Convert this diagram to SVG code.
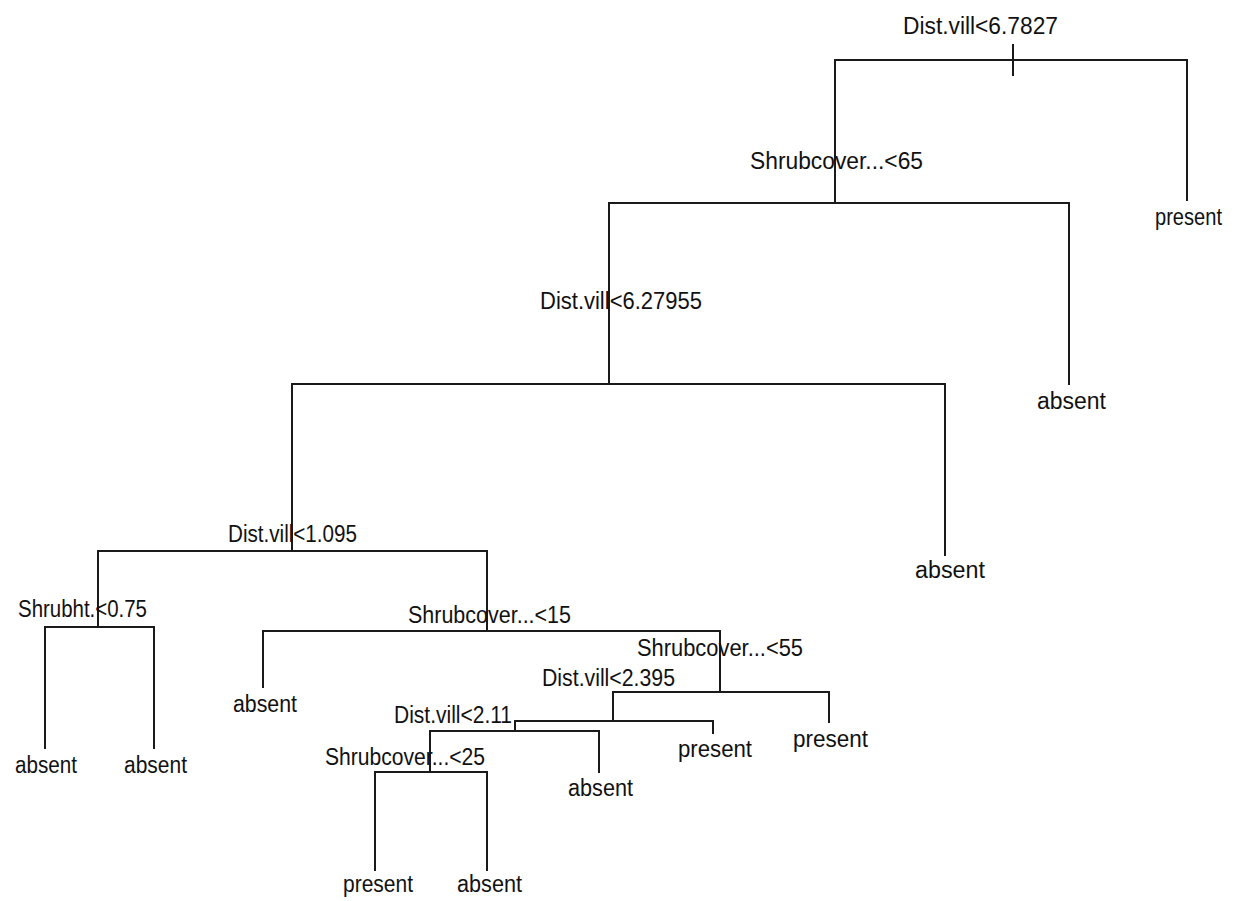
<svg xmlns="http://www.w3.org/2000/svg" width="1237" height="901" viewBox="0 0 1237 901">
<style>
.e{stroke:#1a1a1a;stroke-width:2;fill:none;stroke-linecap:square}
text{font-family:"Liberation Sans",Arial,sans-serif;font-size:23.5px;fill:#111}
</style>
<rect width="1237" height="901" fill="#ffffff"/>
<g id="connectors" class="e">
<path d="M835 60H1187M1013 45V75M835 60V203M1187 60V200"/>
<path d="M609 203H1069M609 203V384M1069 203V384"/>
<path d="M292 384H945M292 384V551M945 384V555"/>
<path d="M98 551H487M98 551V627M487 551V631"/>
<path d="M45 627H154M45 627V748M154 627V748"/>
<path d="M263 631H720M263 631V687M720 631V692"/>
<path d="M613 692H829M613 692V721M829 692V722"/>
<path d="M515 721H713M713 721V733M515 721V731"/>
<path d="M430 731H599M599 731V772M430 731V772"/>
<path d="M375 772H487M375 772V870M487 772V870"/>
</g>
<g id="n-root"><text x="903" y="34" textLength="155" lengthAdjust="spacingAndGlyphs">Dist.vill&lt;6.7827</text></g>
<g id="n-present-1"><text x="1155" y="225" textLength="67" lengthAdjust="spacingAndGlyphs">present</text></g>
<g id="n-shrub65"><text x="750" y="169" textLength="173" lengthAdjust="spacingAndGlyphs">Shrubcover...&lt;65</text></g>
<g id="n-absent-1"><text x="1037" y="409" textLength="69" lengthAdjust="spacingAndGlyphs">absent</text></g>
<g id="n-dist627"><text x="540" y="309" textLength="162" lengthAdjust="spacingAndGlyphs">Dist.vill&lt;6.27955</text></g>
<g id="n-absent-2"><text x="915" y="578" textLength="70" lengthAdjust="spacingAndGlyphs">absent</text></g>
<g id="n-dist1095"><text x="228" y="542" textLength="129" lengthAdjust="spacingAndGlyphs">Dist.vill&lt;1.095</text></g>
<g id="n-shrubht"><text x="18" y="617" textLength="129" lengthAdjust="spacingAndGlyphs">Shrubht.&lt;0.75</text></g>
<g id="n-absent-3"><text x="15" y="773" textLength="62" lengthAdjust="spacingAndGlyphs">absent</text></g>
<g id="n-absent-4"><text x="124" y="773" textLength="63" lengthAdjust="spacingAndGlyphs">absent</text></g>
<g id="n-shrub15"><text x="408" y="623" textLength="163" lengthAdjust="spacingAndGlyphs">Shrubcover...&lt;15</text></g>
<g id="n-absent-5"><text x="233" y="712" textLength="64" lengthAdjust="spacingAndGlyphs">absent</text></g>
<g id="n-shrub55"><text x="637" y="656" textLength="166" lengthAdjust="spacingAndGlyphs">Shrubcover...&lt;55</text></g>
<g id="n-dist2395"><text x="542" y="686" textLength="133" lengthAdjust="spacingAndGlyphs">Dist.vill&lt;2.395</text></g>
<g id="n-present-2"><text x="678" y="757" textLength="74" lengthAdjust="spacingAndGlyphs">present</text></g>
<g id="n-present-3"><text x="793" y="747" textLength="75" lengthAdjust="spacingAndGlyphs">present</text></g>
<g id="n-dist211"><text x="394" y="723" textLength="118" lengthAdjust="spacingAndGlyphs">Dist.vill&lt;2.11</text></g>
<g id="n-absent-6"><text x="568" y="796" textLength="65" lengthAdjust="spacingAndGlyphs">absent</text></g>
<g id="n-shrub25"><text x="325" y="765" textLength="160" lengthAdjust="spacingAndGlyphs">Shrubcover...&lt;25</text></g>
<g id="n-present-4"><text x="343" y="892" textLength="70" lengthAdjust="spacingAndGlyphs">present</text></g>
<g id="n-absent-7"><text x="457" y="892" textLength="65" lengthAdjust="spacingAndGlyphs">absent</text></g>
</svg>
